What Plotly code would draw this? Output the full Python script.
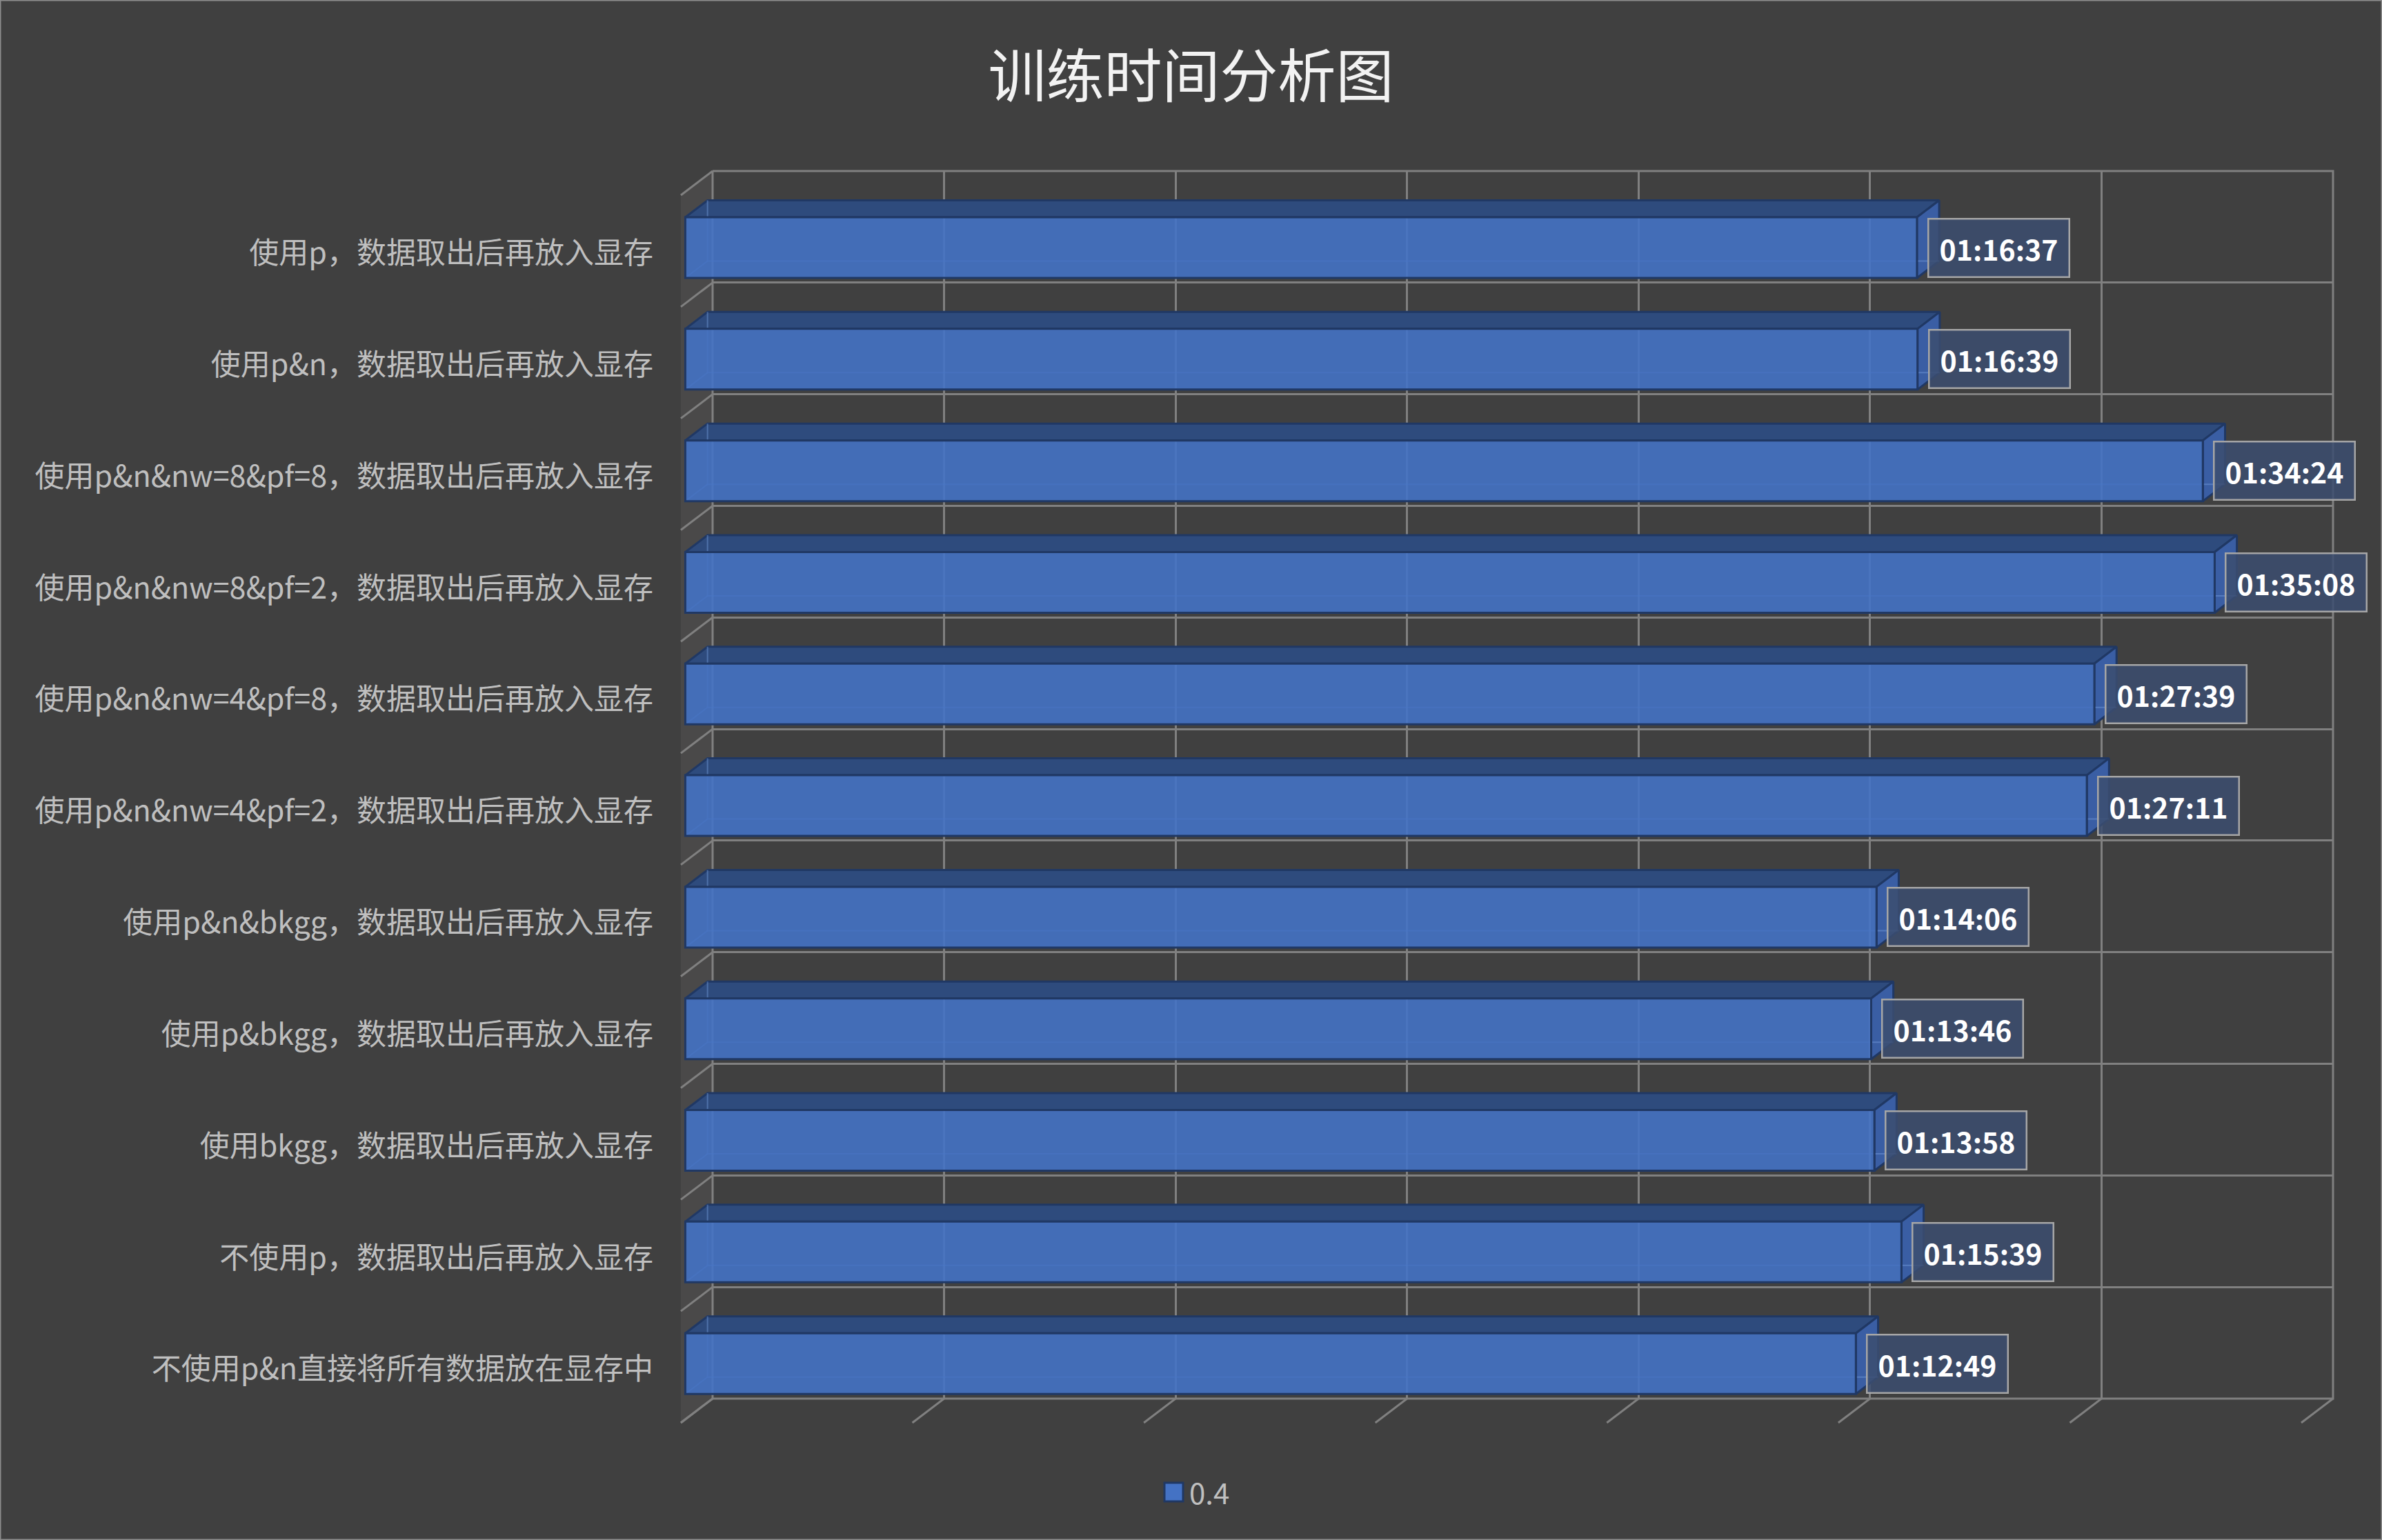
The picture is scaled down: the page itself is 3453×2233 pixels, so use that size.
import plotly.graph_objects as go

# ---------------- data ----------------
title_text = "训练时间分析图"
series_name = "0.4"
categories = [
    "使用p，数据取出后再放入显存",
    "使用p&n，数据取出后再放入显存",
    "使用p&n&nw=8&pf=8，数据取出后再放入显存",
    "使用p&n&nw=8&pf=2，数据取出后再放入显存",
    "使用p&n&nw=4&pf=8，数据取出后再放入显存",
    "使用p&n&nw=4&pf=2，数据取出后再放入显存",
    "使用p&n&bkgg，数据取出后再放入显存",
    "使用p&bkgg，数据取出后再放入显存",
    "使用bkgg，数据取出后再放入显存",
    "不使用p，数据取出后再放入显存",
    "不使用p&n直接将所有数据放在显存中",
]
durations = [
    "01:16:37", "01:16:39", "01:34:24", "01:35:08", "01:27:39", "01:27:11",
    "01:14:06", "01:13:46", "01:13:58", "01:15:39", "01:12:49",
]
axis_max_seconds = 6048   # 0.07 day
axis_step_seconds = 864   # 0.01 day


def to_seconds(s):
    h, m, sec = (int(p) for p in s.split(":"))
    return h * 3600 + m * 60 + sec


values = [to_seconds(s) for s in durations]
N = len(categories)

# ---------------- geometry (pixels) ----------------
W, H = 3453, 2233
X0, X1 = 1033, 3382          # back wall left/right
Y0, Y1 = 248, 2028           # back wall top/bottom
sx = (X1 - X0) / axis_max_seconds
sy = (Y1 - Y0) / N
DEPTH = (-46, 35)            # oblique depth vector (full depth)
F_FRONT, F_BACK = 0.86, 0.16
T = 88 / sy                  # bar thickness in band units

# frame B (big drawing frame, same scale)
BL, BR, BT, BB = 948, W, 140, H


def fx(px):
    return px / W


def fy(py):
    return 1 - py / H


def off(f):
    return DEPTH[0] * f / sx, DEPTH[1] * f / sy


oxf, oyf = off(F_FRONT)
oxb, oyb = off(F_BACK)
dX, dY = off(1.0)

BG = "#404040"
GRID = "#808080"
EDGE = "#203864"

fig = go.Figure()

# invisible anchor trace so the back-wall subplot (x/y) is created
fig.add_trace(go.Scatter(x=[0], y=[0], xaxis="x", yaxis="y", mode="markers",
                         marker=dict(opacity=0), hoverinfo="skip",
                         showlegend=False))

# ---- left wall ----
fig.add_trace(go.Scatter(
    x=[0, 0, dX, dX, 0], y=[0, N, N + dY, dY, 0],
    xaxis="x2", yaxis="y2", mode="lines", fill="toself",
    fillcolor="#4a4949", line=dict(width=0), hoverinfo="skip",
    showlegend=False, zorder=-2))

wx, wy = [], []
for k in range(N + 1):
    wx += [0, dX, None]
    wy += [k, k + dY, None]
for j in range(axis_max_seconds // axis_step_seconds + 1):
    xv = j * axis_step_seconds
    wx += [xv, xv + dX, None]
    wy += [N, N + dY, None]
# back-wall outline
wx += [0, axis_max_seconds, axis_max_seconds, 0, 0, None]
wy += [0, 0, N, N, 0, None]
fig.add_trace(go.Scatter(
    x=wx, y=wy, xaxis="x2", yaxis="y2", mode="lines",
    line=dict(color=GRID, width=3), hoverinfo="skip",
    showlegend=False, zorder=-1))

# ---- bar faces ----
top_x, top_y, side_x, side_y, in_x, in_y = [], [], [], [], [], []
for i, v in enumerate(values):
    yc = i + 0.5
    tf, bf = yc - T / 2 + oyf, yc + T / 2 + oyf
    tb, bb = yc - T / 2 + oyb, yc + T / 2 + oyb
    top_x += [oxf, v + oxf, v + oxb, oxb, oxf, None]
    top_y += [tf, tf, tb, tb, tf, None]
    side_x += [v + oxf, v + oxb, v + oxb, v + oxf, v + oxf, None]
    side_y += [tf, tb, bb, bf, tf, None]
    in_x += [oxb, oxb, v + oxb, None, oxb, oxf, None]
    in_y += [tb, bb, bb, None, bb, bf, None]

fig.add_trace(go.Scatter(
    x=top_x, y=top_y, xaxis="x2", yaxis="y2", mode="lines", fill="toself",
    fillcolor="#2e4b7d", line=dict(color=EDGE, width=3),
    hoverinfo="skip", showlegend=False, zorder=0))
fig.add_trace(go.Scatter(
    x=side_x, y=side_y, xaxis="x2", yaxis="y2", mode="lines", fill="toself",
    fillcolor="#3a5ea4", line=dict(color=EDGE, width=3),
    hoverinfo="skip", showlegend=False, zorder=0))
fig.add_trace(go.Scatter(
    x=in_x, y=in_y, xaxis="x2", yaxis="y2", mode="lines",
    line=dict(color="rgba(120,160,225,0.45)", width=2),
    hoverinfo="skip", showlegend=False, zorder=1))

fig.add_trace(go.Bar(
    x=values, y=[i + 0.5 + oyf for i in range(N)], base=oxf,
    orientation="h", width=T, name=series_name,
    xaxis="x2", yaxis="y2",
    marker=dict(color="rgba(68,114,196,0.9)", line=dict(color=EDGE, width=3)),
    showlegend=False, zorder=2))

# ---- data labels ----
for i, (v, s) in enumerate(zip(values, durations)):
    fig.add_annotation(
        x=v + oxf + 15 / sx, y=i + 0.5 + oyf, xref="x2", yref="y2",
        xanchor="left", yanchor="middle", text=f"<b>{s}</b>",
        showarrow=False, width=202, height=82, borderpad=0,
        bgcolor="rgba(60,77,112,0.85)", bordercolor="#a6a6a6", borderwidth=2.5,
        font=dict(size=41, color="#ffffff",
                  family="Noto Sans CJK SC, Open Sans, sans-serif"))

# ---- legend (manual) ----
fig.add_shape(type="rect", xref="paper", yref="paper",
              x0=fx(1688), x1=fx(1715), y0=fy(2177), y1=fy(2150),
              fillcolor="#4472C4", line=dict(color=EDGE, width=3))
fig.add_annotation(x=fx(1722), y=fy(2162), xref="paper", yref="paper",
                   xanchor="left", yanchor="middle", text=series_name,
                   showarrow=False,
                   font=dict(size=42, color="#bfbfbf",
                             family="Noto Sans CJK SC, sans-serif"))

# chart border
fig.add_shape(type="rect", xref="paper", yref="paper", x0=0, x1=1, y0=0, y1=1,
              line=dict(color="#8c8c8c", width=3))

fig.update_layout(
    width=W, height=H, margin=dict(l=0, r=0, t=0, b=0),
    paper_bgcolor=BG, plot_bgcolor="rgba(0,0,0,0)",
    font=dict(family="Noto Sans CJK SC, sans-serif", color="#bfbfbf"),
    title=dict(text=title_text, x=0.5, xanchor="center", y=fy(112),
               yanchor="middle",
               font=dict(size=84, color="#f2f2f2",
                         family="Noto Sans CJK SC, sans-serif")),
    xaxis=dict(domain=[fx(X0), fx(X1)], range=[0, axis_max_seconds],
               tick0=0, dtick=axis_step_seconds, showgrid=True,
               gridcolor=GRID, gridwidth=3, showline=False,
               showticklabels=False, ticks="",
               zeroline=False, anchor="y", fixedrange=True),
    yaxis=dict(domain=[fy(Y1), fy(Y0)], range=[N, 0], tick0=0, dtick=1,
               showgrid=True, gridcolor=GRID, gridwidth=3, showline=False,
               showticklabels=False, ticks="", zeroline=False, anchor="x",
               fixedrange=True),
    xaxis2=dict(domain=[fx(BL), fx(BR)],
                range=[(BL - X0) / sx, (BR - X0) / sx],
                showgrid=False, showticklabels=False, zeroline=False,
                showline=False, ticks="", anchor="y2", fixedrange=True),
    yaxis2=dict(domain=[fy(BB), fy(BT)],
                range=[(BB - Y0) / sy, (BT - Y0) / sy],
                tickmode="array",
                tickvals=[i + 0.5 + oyf + 0.05 for i in range(N)],
                ticktext=categories, ticks="", showgrid=False,
                zeroline=False, showline=False, anchor="x2",
                tickfont=dict(size=43, color="#bfbfbf",
                              family="Noto Sans CJK SC, sans-serif"),
                fixedrange=True),
)

fig.write_html("out.html")
